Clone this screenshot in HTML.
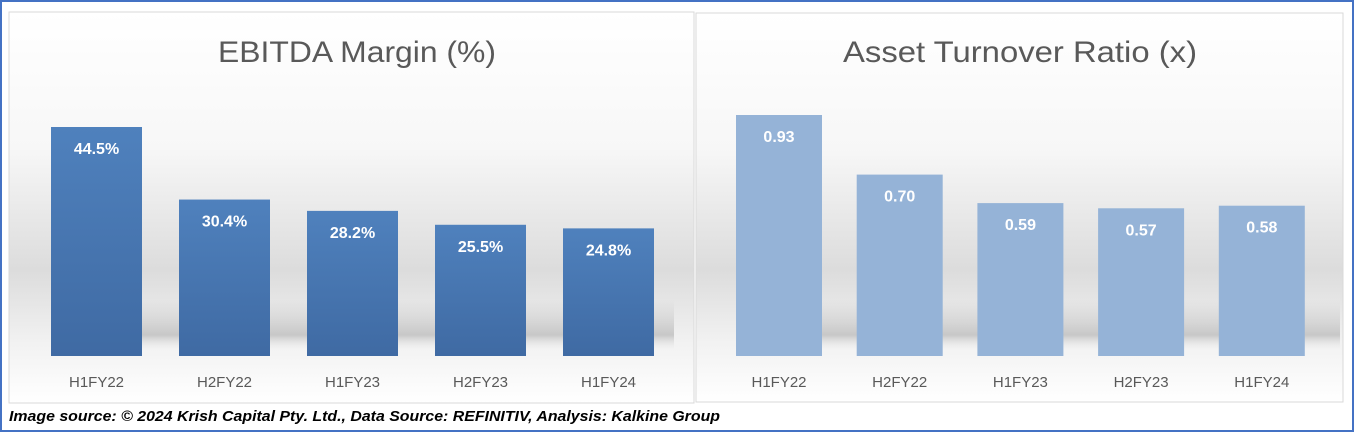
<!DOCTYPE html>
<html><head><meta charset="utf-8"><style>
html,body{margin:0;padding:0;background:#fff}
svg{display:block}
</style></head><body>
<svg id="root" width="1354" height="432" xmlns="http://www.w3.org/2000/svg" font-family="'Liberation Sans', sans-serif">
<defs>
<linearGradient id="bg" x1="0" y1="0" x2="0" y2="1">
<stop offset="0" stop-color="#ffffff"/>
<stop offset="0.35" stop-color="#f7f7f7"/>
<stop offset="0.66" stop-color="#dcdcdc"/>
<stop offset="0.85" stop-color="#f2f2f2"/>
<stop offset="1" stop-color="#ffffff"/>
</linearGradient>
<linearGradient id="bar1" x1="0" y1="0" x2="0" y2="1">
<stop offset="0" stop-color="#4f81bd"/><stop offset="1" stop-color="#3f6aa3"/>
</linearGradient>
<linearGradient id="shadow" x1="0" y1="0" x2="0" y2="1">
<stop offset="0" stop-color="#c8c8c8" stop-opacity="0"/><stop offset="0.7" stop-color="#bdbdbd" stop-opacity="0.8"/><stop offset="1" stop-color="#e8e8e8" stop-opacity="0"/>
</linearGradient>
</defs>
<rect x="1" y="1" width="1352" height="430" fill="#fff" stroke="#4472c4" stroke-width="2"/>
<g id="left">
<rect x="9" y="12" width="685" height="391" fill="url(#bg)" stroke="#d9d9d9"/>
<rect x="56" y="300" width="618" height="50" fill="url(#shadow)"/>
<text x="357" y="62" text-anchor="middle" font-size="30" fill="#595959" textLength="278" lengthAdjust="spacingAndGlyphs">EBITDA Margin (%)</text>
</g>
<g id="right">
<rect x="696" y="13" width="647" height="389" fill="url(#bg)" stroke="#d9d9d9"/>
<rect x="740" y="300" width="600" height="50" fill="url(#shadow)"/>
<text x="1020" y="62" text-anchor="middle" font-size="30" fill="#595959" textLength="354" lengthAdjust="spacingAndGlyphs">Asset Turnover Ratio (x)</text>
</g>
<text x="9" y="421" font-size="15" font-weight="bold" font-style="italic" fill="#000" textLength="711" lengthAdjust="spacingAndGlyphs">Image source: © 2024 Krish Capital Pty. Ltd., Data Source: REFINITIV, Analysis: Kalkine Group</text>
</svg>
<script>
const categories = ["H1FY22","H2FY22","H1FY23","H2FY23","H1FY24"];
const ebitdaValues = [44.5, 30.4, 28.2, 25.5, 24.8];
const ebitdaLabels = ["44.5%","30.4%","28.2%","25.5%","24.8%"];
const turnoverValues = [0.93, 0.70, 0.59, 0.57, 0.58];
const turnoverLabels = ["0.93","0.70","0.59","0.57","0.58"];
const NS = "http://www.w3.org/2000/svg";
function mk(tag, attrs){const e=document.createElementNS(NS,tag);for(const k in attrs)e.setAttribute(k,attrs[k]);return e;}
function drawChart(g, vals, labels, x0, step, bw, baseline, scale, fill, prefix){
  vals.forEach((v,i)=>{
    const x = x0 + i*step;
    const h = v*scale;
    const r = mk("rect",{x:x,y:baseline-h,width:bw,height:h,fill:fill});
    
    
    g.appendChild(r);
    const t = mk("text",{x:x+bw/2,y:baseline-h+27,"text-anchor":"middle","font-size":"16","font-weight":"bold",fill:"#fff"});
    t.textContent = labels[i];
    
    
    g.appendChild(t);
    const c = mk("text",{x:x+bw/2,y:387,"text-anchor":"middle","font-size":"15",fill:"#595959"});
    c.textContent = categories[i];
    
    
    g.appendChild(c);
  });
}
const base = 356;
drawChart(document.getElementById('left'), ebitdaValues, ebitdaLabels, 51, 128, 91, base, 229/44.5, "url(#bar1)", "ebitda");
drawChart(document.getElementById('right'), turnoverValues, turnoverLabels, 736, 120.7, 86, base, 241/0.93, "#95b3d7", "turnover");
</script>
</body></html>
